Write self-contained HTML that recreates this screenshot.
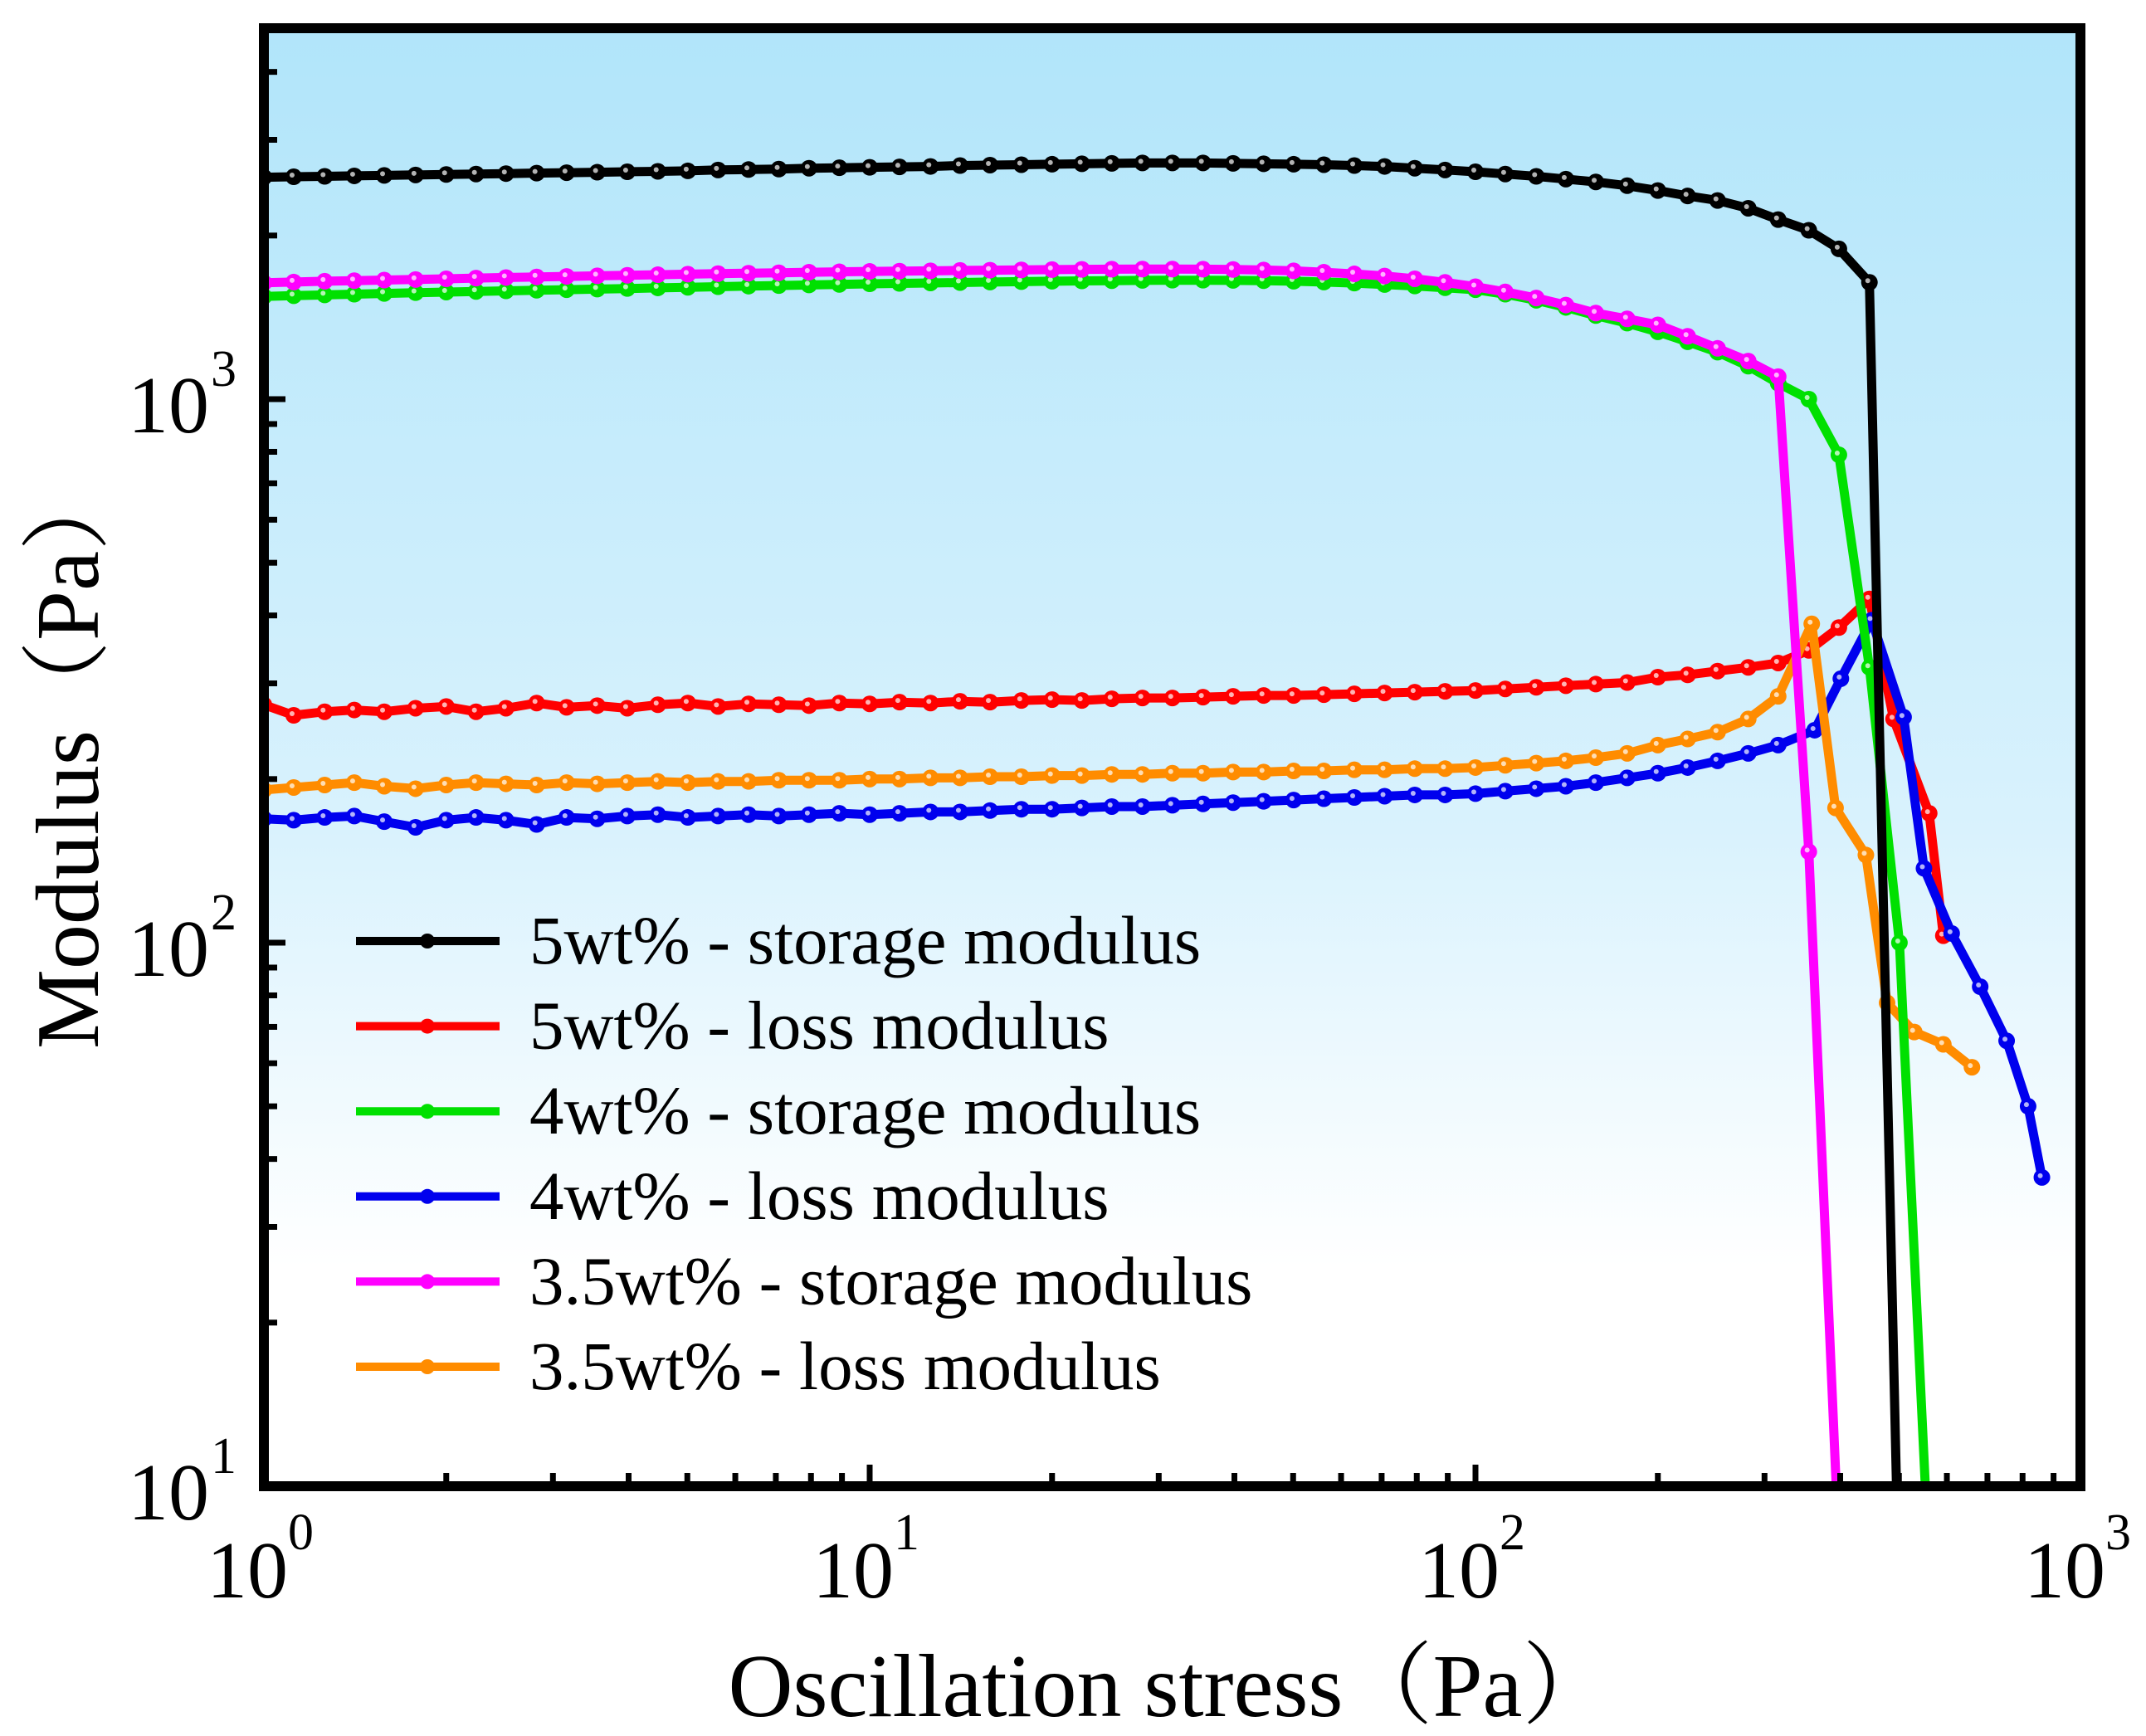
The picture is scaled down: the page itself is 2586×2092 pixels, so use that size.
<!DOCTYPE html>
<html><head><meta charset="utf-8">
<style>
html,body{margin:0;padding:0;background:#fff;}
svg{display:block;}
text{font-family:"Liberation Serif","Noto Serif CJK SC",serif;fill:#000;}
</style></head>
<body>
<svg id="chart" width="2586" height="2092" viewBox="0 0 2586 2092" xmlns="http://www.w3.org/2000/svg">
<defs>
<linearGradient id="bg" x1="0" y1="0" x2="0" y2="1">
<stop offset="0" stop-color="#b1e5fa"/>
<stop offset="0.55" stop-color="#d9f2fd"/>
<stop offset="0.85" stop-color="#ffffff"/>
<stop offset="1" stop-color="#ffffff"/>
</linearGradient>
<clipPath id="plotclip"><rect x="318" y="34" width="2189" height="1757"/></clipPath>
</defs>
<rect x="318" y="34" width="2189" height="1757" fill="url(#bg)"/>
<g id="series" clip-path="url(#plotclip)"></g>
<g id="ticks"></g>
<rect x="318" y="34" width="2189" height="1757" fill="none" stroke="#000" stroke-width="12"/>
<g id="ticklabels"></g>
<text x="1410" y="2068" font-size="108" text-anchor="middle">Oscillation stress（Pa）</text>
<text transform="translate(118,910) rotate(-90)" font-size="108" text-anchor="middle">Modulus（Pa）</text>
<g id="legend"></g>
</svg>
<script>
const XGRID = [1.00,1.12,1.26,1.41,1.58,1.78,2.00,2.24,2.51,2.82,3.16,3.55,3.98,4.47,5.01,5.62,6.31,7.08,7.94,8.91,10.0,11.2,12.6,14.1,15.8,17.8,20.0,22.4,25.1,28.2,31.6,35.5,39.8,44.7,50.1,56.2,63.1,70.8,79.4,89.1,100,112,126,141,158,178,200,224,251,282,316,355,398,447,501];
const seriesNames = ["5wt% - storage modulus","5wt% - loss modulus","4wt% - storage modulus","4wt% - loss modulus","3.5wt% - storage modulus","3.5wt% - loss modulus"];
const seriesColors = ["#000000","#ff0000","#00e000","#0000ee","#ff00ff","#ff8c00"];
const black5Y = [2560,2565,2570,2575,2580,2585,2590,2595,2600,2605,2610,2615,2620,2625,2630,2640,2645,2650,2660,2665,2670,2675,2680,2690,2695,2700,2705,2710,2715,2720,2720,2720,2715,2710,2705,2700,2690,2680,2660,2640,2620,2595,2570,2540,2510,2470,2420,2365,2320,2245,2140,2045,1890,1640];
const black5TailX = [498];
const black5TailY = [7.7];
const red5Y = [274,262,266,268,266,270,272,266,270,276,271,273,270,274,276,272,275,274,273,276,275,277,276,278,277,279,280,279,281,282,282,283,284,285,285,286,287,288,289,290,291,293,295,297,299,301,308,311,316,321,327,345,380,429];
const red5TailX = [490,561,592];
const red5TailY = [258,173,103];
const green4Y = [1545,1550,1555,1560,1565,1570,1574,1578,1582,1586,1590,1594,1598,1602,1606,1610,1614,1618,1622,1626,1630,1633,1636,1639,1642,1645,1648,1650,1652,1654,1655,1655,1654,1652,1648,1642,1635,1625,1615,1603,1590,1560,1520,1475,1425,1380,1330,1275,1220,1150,1070,1000,790,321,100];
const green4TailX = [559];
const green4TailY = [7.7];
const blue4Y = [169,168,170,171,167,163,168,170,168,165,170,169,171,172,170,171,172,171,172,173,172,173,174,174,175,176,176,177,178,178,179,180,181,182,183,184,185,186,187,187,188,190,192,194,197,201,205,210,216,223,231];
const blue4TailX = [363,401,451,509,550,611,681,753,817,861];
const blue4TailY = [246,306,392,260,137,104,83,66,50,37];
const mag35Y = [1637,1642,1648,1652,1656,1660,1665,1670,1674,1678,1682,1686,1690,1694,1698,1702,1705,1708,1712,1715,1718,1720,1722,1725,1727,1729,1731,1733,1734,1735,1735,1734,1732,1728,1722,1712,1700,1685,1665,1640,1610,1575,1535,1490,1440,1405,1370,1305,1240,1175,1100,147];
const mag35TailX = [398];
const mag35TailY = [7.7];
const orange35Y = [191,193,195,197,194,192,195,197,196,195,197,196,197,198,197,198,198,199,199,199,200,200,201,201,202,202,203,203,204,204,205,205,206,206,207,207,208,208,209,209,210,212,214,216,219,223,231,237,244,258,284];
const orange35TailX = [359,393,441,478,530,592,660];
const orange35TailY = [386,177,145,77.5,68.5,65,59];
const xTickLabels = ["0","1","2","3"];
const yTickLabels = ["1","2","3"];

const NS = "http://www.w3.org/2000/svg";
const X0 = 318, XDEC = 730, Y10 = 1791, YDEC = 655;
function xs(v){ return X0 + Math.log10(v) * XDEC; }
function ys(v){ return Y10 - (Math.log10(v) - 1) * YDEC; }
function mk(tag, attrs, parent){ const e = document.createElementNS(NS, tag); for (const k in attrs) e.setAttribute(k, attrs[k]); parent.appendChild(e); return e; }

const seriesData = [
  [black5Y, black5TailX, black5TailY],
  [red5Y, red5TailX, red5TailY],
  [green4Y, green4TailX, green4TailY],
  [blue4Y, blue4TailX, blue4TailY],
  [mag35Y, mag35TailX, mag35TailY],
  [orange35Y, orange35TailX, orange35TailY]
];
const order = [1,3,5,2,4,0];
const sg = document.getElementById("series");
order.forEach(function(si){
  const d = seriesData[si];
  const px = XGRID.slice(0, d[0].length).concat(d[1]);
  const py = d[0].concat(d[2]);
  const g = mk("g", {}, sg);
  
  
  let pts = px.map(function(x, i){ return xs(x).toFixed(1) + "," + ys(py[i]).toFixed(1); }).join(" ");
  const pl = mk("polyline", {points: pts, fill: "none", stroke: seriesColors[si], "stroke-width": 11, "stroke-linejoin": "round"}, g);
  
  
  px.forEach(function(x, i){
    if (py[i] < 10) return;
    const c = mk("circle", {cx: xs(x), cy: ys(py[i]), r: 10, fill: seriesColors[si]}, g);
    
    
    const h = mk("circle", {cx: xs(x) - 2, cy: ys(py[i]) - 2, r: 3, fill: "#ffffff", opacity: 0.7}, g);
    
    
  });
});

const tg = document.getElementById("ticks");
for (let d = 0; d < 3; d++) {
  for (let m = 1; m <= 9; m++) {
    const v = m * Math.pow(10, d);
    const x = xs(v);
    const len = m === 1 ? 26 : 16;
    const t = mk("line", {x1: x, y1: Y10, x2: x, y2: Y10 - len, stroke: "#000", "stroke-width": 7}, tg);
    
    
  }
}
for (let d = 1; d < 4; d++) {
  for (let m = 1; m <= 9; m++) {
    const v = m * Math.pow(10, d);
    const y = ys(v);
    if (y < 34) continue;
    const len = m === 1 ? 26 : 16;
    const t = mk("line", {x1: X0, y1: y, x2: X0 + len, y2: y, stroke: "#000", "stroke-width": 7}, tg);
    
    
  }
}

const lg = document.getElementById("ticklabels");
xTickLabels.forEach(function(lab, i){
  const t = mk("text", {x: xs(Math.pow(10, i)) - 20, y: 1925, "font-size": 98, "text-anchor": "middle"}, lg);
  
  
  t.textContent = "10";
  const s = mk("text", {x: xs(Math.pow(10, i)) + 29, y: 1867, "font-size": 62}, lg);
  
  
  s.textContent = lab;
});
yTickLabels.forEach(function(lab, i){
  const y = ys(Math.pow(10, i + 1));
  const t = mk("text", {x: 252, y: y + 40, "font-size": 98, "text-anchor": "end"}, lg);
  
  
  t.textContent = "10";
  const s = mk("text", {x: 254, y: y - 16, "font-size": 62}, lg);
  
  
  s.textContent = lab;
});

const leg = document.getElementById("legend");
seriesNames.forEach(function(name, i){
  const y = 1134 + i * 102.6;
  const l = mk("line", {x1: 429, y1: y, x2: 602, y2: y, stroke: seriesColors[i], "stroke-width": 10}, leg);
  
  
  const c = mk("circle", {cx: 515, cy: y, r: 9, fill: seriesColors[i]}, leg);
  
  
  const t = mk("text", {x: 638, y: y + 27, "font-size": 83}, leg);
  
  
  t.textContent = name;
});
</script>
</body></html>
